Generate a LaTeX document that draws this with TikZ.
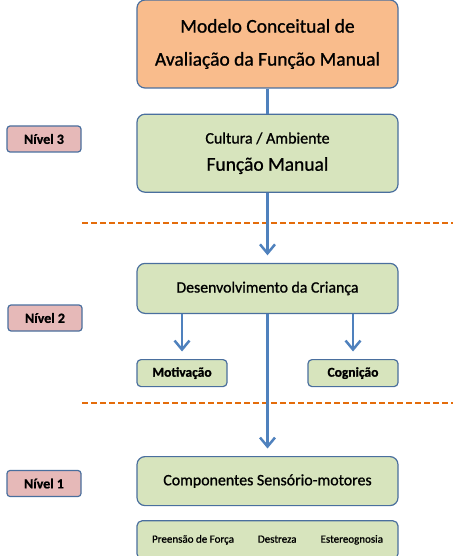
\documentclass[tikz,border=0pt]{standalone}
\usepackage{fontspec}
\setmainfont{Carlito}[FakeBold=1]
\usetikzlibrary{positioning,arrows.meta}
\definecolor{boxline}{HTML}{4A6F9E}
\definecolor{arrowblue}{HTML}{4F81BD}
\definecolor{orangefill}{HTML}{F9BC8C}
\definecolor{greenfill}{HTML}{D7E4BD}
\definecolor{pinkfill}{HTML}{E6B9B8}
\definecolor{sepline}{HTML}{E46C0A}

\begin{document}
\begin{tikzpicture}[
  x=1pt, y=-1pt,
  >={Straight Barb[length=9pt,width=15pt]},
  node distance=20pt,
  box/.style={draw=boxline, line width=1.2pt, rounded corners=8pt, align=center,
              inner sep=0pt, minimum width=261pt, fill=greenfill},
  smallbox/.style={draw=boxline, line width=1.2pt, rounded corners=4pt, align=center,
              inner sep=0pt, minimum width=90pt, minimum height=27pt, fill=greenfill,
              font=\fontsize{13.5}{15}\selectfont\bfseries},
  lvl/.style={draw=boxline, line width=1.2pt, rounded corners=3pt, inner sep=0pt,
              minimum width=74pt, minimum height=26pt, fill=pinkfill,
              font=\fontsize{14}{15}\selectfont\bfseries},
  ar/.style={->, line width=2.5pt, arrowblue, shorten >=7.5pt},
  sep/.style={sepline, line width=2pt, dash pattern=on 6pt off 3pt},
]
  \useasboundingbox (0,0) rectangle (459,556);

  \node[box, fill=orangefill, minimum height=88pt, font=\fontsize{19.5}{33}\selectfont] (model) at (267.5,44)
        {Modelo Conceitual de\\Avaliação da Função Manual};
  \node[box, minimum height=78pt, below=25pt of model] (culture)
        {{\fontsize{16}{18}\selectfont Cultura / Ambiente}\\[12pt]{\fontsize{19.5}{22}\selectfont Função Manual}};
  \node[box, minimum height=50pt, below=70pt of culture, font=\fontsize{15.8}{18}\selectfont] (child)
        {Desenvolvimento da Criança};
  \node[smallbox, below=45pt of child.south west, anchor=north west] (motiv) {Motivação};
  \node[smallbox, below=45pt of child.south east, anchor=north east] (cogn) {Cognição};
  \node[box, minimum height=49pt, below=142pt of child, font=\fontsize{15.9}{20}\selectfont] (sensor)
        {Componentes Sensório-motores};
  \node[box, minimum height=38pt, below=14pt of sensor, rounded corners=5pt,
        font=\fontsize{11}{12}\selectfont] (skills)
        {Preensão de Força\hspace{24pt}Destreza\hspace{24pt}Estereognosia};

  \node[lvl] (lvl3) at (44,139) {Nível 3};
  \node[lvl] (lvl2) at (45,318) {Nível 2};
  \node[lvl] (lvl1) at (44,483.5) {Nível 1};

  % separators between levels
  \coordinate (sepa) at (82,223);
  \coordinate (sepb) at (82,403);
  \draw[sep] (sepa) -- ++(371,0);
  \draw[sep] (sepb) -- ++(371,0);

  \draw[line width=2.5pt, arrowblue] (model) -- (culture);
  \draw[ar] (culture) -- (child);
  \draw[ar] (child.south -| motiv) -- (motiv);
  \draw[ar] (child.south -| cogn) -- (cogn);
  \draw[ar] (child) -- (sensor);
\end{tikzpicture}
\end{document}
